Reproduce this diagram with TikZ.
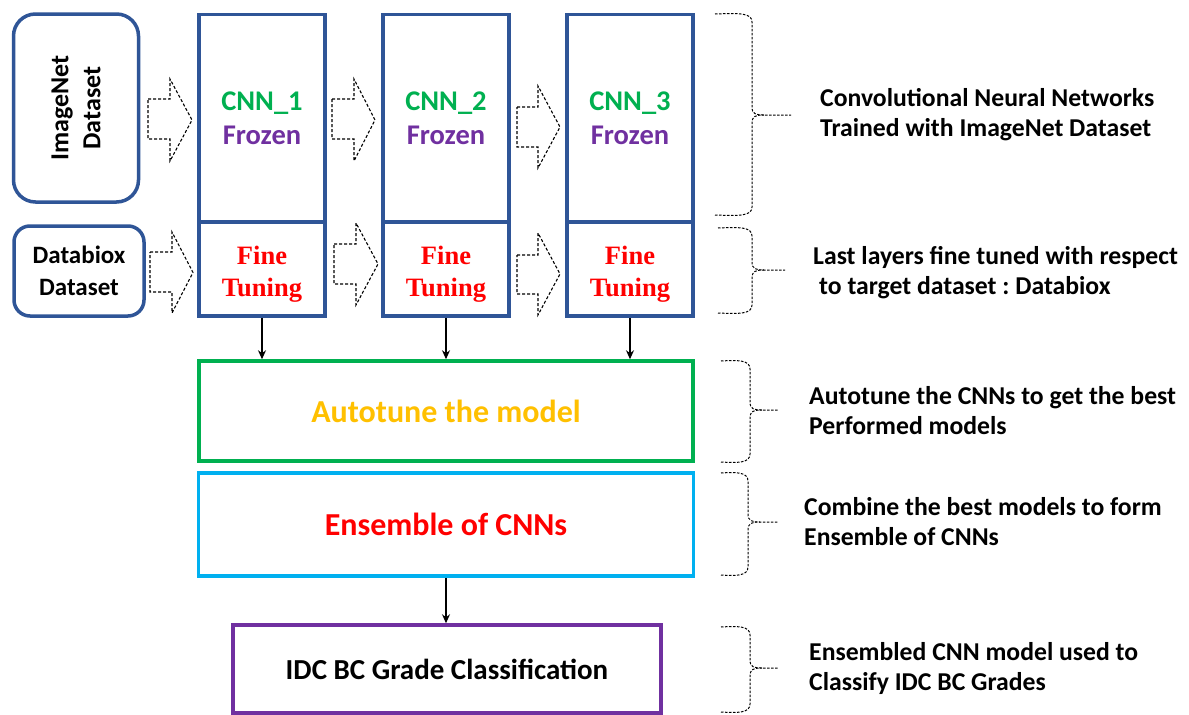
\documentclass[tikz,border=0pt]{standalone}
\usepackage{fontspec}
\setmainfont{Carlito}
\newfontfamily\serifbold{Liberation Serif}[BoldFont={* Bold}]
\usetikzlibrary{arrows.meta}
\frenchspacing

\definecolor{frameblue}{HTML}{2F5597}
\definecolor{cnngreen}{HTML}{00B050}
\definecolor{frozpurple}{HTML}{7030A0}
\definecolor{autogold}{HTML}{FFC000}
\definecolor{enscyan}{HTML}{00B0F0}
\definecolor{finered}{HTML}{FF0000}

% dashed block arrow: #1 x-left, #2 x-head, #3 x-tip, #4 shaft top, #5 shaft bottom, #6 head top, #7 head bottom
\newcommand\blockarrow[7]{%
  \draw[blockdash] (#1,#4) -- (#2,#4) -- (#2,#6) -- (#3,{(#6+#7)/2}) -- (#2,#7) -- (#2,#5) -- (#1,#5) -- cycle;}

% dashed curly brace: #1 x-ends, #2 top, #3 x-spine, #4 middle, #5 x-tip, #6 bottom
\newcommand\dashbrace[6]{%
  \draw[bracedash] (#1,#2) .. controls ({#3-12},{#2-1}) and (#3,{#2-1}) .. (#3,{#2+8})
    -- (#3,{#4-8}) .. controls (#3,{#4-1}) and ({#3+4},#4) .. ({#3+12},#4) -- (#5,#4);
  \draw[bracedash] (#1,#6) .. controls ({#3-12},{#6+1}) and (#3,{#6+1}) .. (#3,{#6-8})
    -- (#3,{#4+8}) .. controls (#3,{#4+1}) and ({#3+4},#4) .. ({#3+12},#4);}

\begin{document}
\begin{tikzpicture}[x=1pt,y=-1pt,
  framebox/.style={draw=frameblue,line width=3.5pt,minimum width=126pt,inner sep=0pt,align=center},
  datasetbox/.style={draw=frameblue,line width=3.5pt,inner sep=0pt,align=center},
  stagebox/.style={line width=3.5pt,inner sep=0pt,align=center},
  cnnfont/.style={font=\fontsize{28.5}{34}\selectfont\bfseries},
  finefont/.style={font=\serifbold\fontsize{26.5}{32}\selectfont\bfseries,text=finered},
  notefont/.style={font=\fontsize{25.7}{30}\selectfont\bfseries\frenchspacing,align=left,inner sep=0pt,anchor=west},
  blockdash/.style={draw=black,line width=1.1pt,dash pattern=on 3pt off 2pt,line join=miter},
  bracedash/.style={draw=black,line width=1pt,dash pattern=on 2.5pt off 1.5pt},
  flow/.style={draw=black,line width=1.4pt,-{Stealth[length=9pt,width=8pt]}}]

\useasboundingbox[fill=white] (0,0) rectangle (1189,715);

% dataset inputs
\node[datasetbox,rounded corners=22pt,minimum width=125pt,minimum height=188pt] (imagenet) at (76,108) {};
\node[rotate=90,font=\fontsize{26}{32}\selectfont\bfseries,align=center] (imagenetlabel) at (imagenet.center) {ImageNet\\Dataset};
\node[datasetbox,rounded corners=16pt,minimum width=130pt,minimum height=90pt,font=\fontsize{25}{32}\selectfont\bfseries] (databiox) at (79,271) {Databiox\\Dataset};

% frozen CNN columns with fine tuned last layers
\node[framebox,minimum height=207pt,cnnfont] (cnn1) at (262,118) {\textcolor{cnngreen}{CNN\_1}\\\textcolor{frozpurple}{Frozen}};
\node[framebox,minimum height=94pt] (ft1) at (262,269) {};
\node[framebox,minimum height=207pt,cnnfont] (cnn2) at (446,118) {\textcolor{cnngreen}{CNN\_2}\\\textcolor{frozpurple}{Frozen}};
\node[framebox,minimum height=94pt] (ft2) at (446,269) {};
\node[framebox,minimum height=207pt,cnnfont] (cnn3) at (630,118) {\textcolor{cnngreen}{CNN\_3}\\\textcolor{frozpurple}{Frozen}};
\node[framebox,minimum height=94pt] (ft3) at (630,269) {};
\node[finefont,align=center] (ft1label) at ([yshift=-5pt]ft1.center) {Fine\\Tuning};
\node[finefont,align=center] (ft2label) at ([yshift=-5pt]ft2.center) {Fine\\Tuning};
\node[finefont,align=center] (ft3label) at ([yshift=-5pt]ft3.center) {Fine\\Tuning};

% dashed block arrows between the columns
\blockarrow{148}{170}{192}{99}{139}{79}{161}
\blockarrow{150}{172}{193}{252}{292}{232}{313}
\blockarrow{332}{354}{375}{99}{139}{79}{161}
\blockarrow{334}{356}{378}{244}{284}{223}{305}
\blockarrow{517}{538}{560}{107}{147}{86}{168}
\blockarrow{517}{538}{560}{255}{294}{233}{315}

% later stages
\node[stagebox,draw=cnngreen,minimum width=494pt,minimum height=100pt,font=\fontsize{32}{36}\selectfont\bfseries,text=autogold] (auto) at (446,411) {Autotune the model};
\node[stagebox,draw=enscyan,minimum width=495pt,minimum height=103pt,font=\fontsize{32}{36}\selectfont\bfseries,text=finered] (ens) at (446,524.5) {Ensemble of CNNs};
\node[stagebox,draw=frozpurple,minimum width=428pt,minimum height=88pt,font=\fontsize{29}{32}\selectfont\bfseries] (idc) at (447,669) {IDC BC Grade Classification};

\draw[flow] (ft1.south) -- (ft1.south |- auto.north);
\draw[flow] (ft2.south) -- (ft2.south |- auto.north);
\draw[flow] (ft3.south) -- (ft3.south |- auto.north);
\draw[flow] (ens.south) -- (ens.south |- idc.north);

% braces and notes
\dashbrace{715}{14}{752}{115}{791}{215}
\dashbrace{718}{228}{752}{270}{785}{313}
\dashbrace{721}{361}{750}{410}{778}{462}
\dashbrace{721}{473}{748}{522}{778}{575}
\dashbrace{721}{627}{750}{668}{778}{712}

\node[notefont] (note1) at (820,115) {Convolutional Neural Networks\\Trained with ImageNet Dataset};
\node[notefont] (note2) at (813,273) {Last layers fine tuned with respect\\\hspace{6pt}to target dataset : Databiox};
\node[notefont] (note3) at (809,411) {Autotune the CNNs to get the best\\Performed models};
\node[notefont] (note4) at (804,522) {Combine the best models to form\\Ensemble of CNNs};
\node[notefont] (note5) at (809,668) {Ensembled CNN model used to\\Classify IDC BC Grades};
\end{tikzpicture}
\end{document}
